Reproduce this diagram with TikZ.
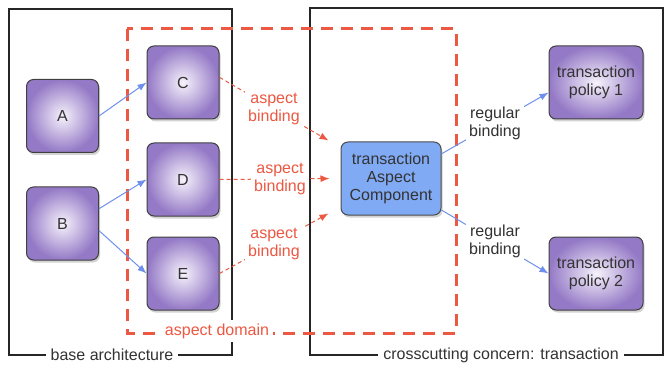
\documentclass[tikz,border=0pt]{standalone}
\usepackage{fontspec}
\setmainfont{Liberation Sans}
\usetikzlibrary{shadows,arrows.meta,calc}
\definecolor{boxpurple}{HTML}{9479C6}
\definecolor{boxlight}{HTML}{F6F2FB}
\definecolor{aspectblue}{HTML}{80AAF4}
\definecolor{bindred}{HTML}{EC5842}
\definecolor{linkblue}{HTML}{6E90EC}
\definecolor{txtgray}{HTML}{333333}
\begin{document}
\begin{tikzpicture}[x=1pt,y=-1pt,
  font=\fontsize{16}{18}\selectfont,
  comp/.style={draw=black!75, line width=1pt, rounded corners=7pt,
    minimum width=72pt, minimum height=73pt, inner color=boxlight,
    outer color=boxpurple, text=txtgray, align=center,
    drop shadow={shadow xshift=1.5pt, shadow yshift=-2.5pt, opacity=0.35}},
  policy/.style={comp, minimum width=94pt},
  aspectcomp/.style={draw=black!70, line width=1pt, rounded corners=7pt,
    minimum width=100pt, minimum height=73pt, fill=aspectblue,
    text=txtgray, align=center,
    drop shadow={shadow xshift=1.5pt, shadow yshift=-2.5pt, opacity=0.35}},
  frame/.style={draw=black!85, line width=1.8pt},
  framelbl/.style={fill=white, text=txtgray, inner sep=5pt},
  domainbox/.style={draw=bindred, line width=3pt, dash pattern=on 12pt off 8pt},
  link/.style={draw=linkblue, line width=1pt, -{Latex[length=9pt,width=7pt]}},
  bind/.style={draw=bindred, line width=1pt, dash pattern=on 4pt off 3pt,
    -{Latex[length=9pt,width=7pt]}},
  bindlbl/.style={fill=white, text=bindred, align=center, inner sep=3pt},
  reglbl/.style={fill=white, text=txtgray, align=center, inner sep=3pt}]
\useasboundingbox (0,0) rectangle (666,366);

% frames of the two parts
\draw[frame] (9,9) rectangle (232,355);
\draw[frame] (310,8) rectangle (663,355);
\node[framelbl] (baselbl) at (112,355) {base architecture};
\node[framelbl] (crosslbl) at (501,355) {crosscutting concern: transaction};

% aspect domain
\draw[domainbox] (127,29) rectangle (456,333);
\node[fill=white, text=bindred, inner sep=4pt] (domlbl) at (217,331) {aspect domain};

% components
\node[comp] (A) at (62.5,116) {A};
\node[comp] (B) at (62.5,223.5) {B};
\node[comp] (C) at (183,82.5) {C};
\node[comp] (D) at (183,179.5) {D};
\node[comp] (E) at (183,273.5) {E};
\node[aspectcomp] (T) at (391,178.5) {transaction\\Aspect\\Component};
\node[policy] (P1) at (596,82.5) {transaction\\policy 1};
\node[policy] (P2) at (596,273.5) {transaction\\policy 2};

% regular links in the base architecture
\draw[link] (A.east) -- (C.west);
\draw[link] (B.22) -- (D.west);
\draw[link] (B.-11) -- (E.west);

% aspect bindings
\coordinate (tin1) at ($(T.north west)+(-12,-1)$);
\coordinate (tin3) at ($(T.south west)+(-12,-2)$);
\draw[bind] (C.8) -- node[bindlbl] (l1) {aspect\\binding} (tin1);
\draw[bind, shorten >=11pt] (D.east) -- node[bindlbl] (l2) {aspect\\binding} (T.west);
\draw[bind] (E.east) -- node[bindlbl] (l3) {aspect\\binding} (tin3);

% regular bindings to the policies
\draw[link] (T.26) -- node[reglbl] (r1) {regular\\binding} (P1.192);
\draw[link] (T.-32) -- node[reglbl] (r2) {regular\\binding} (P2.west);
\end{tikzpicture}
\end{document}
